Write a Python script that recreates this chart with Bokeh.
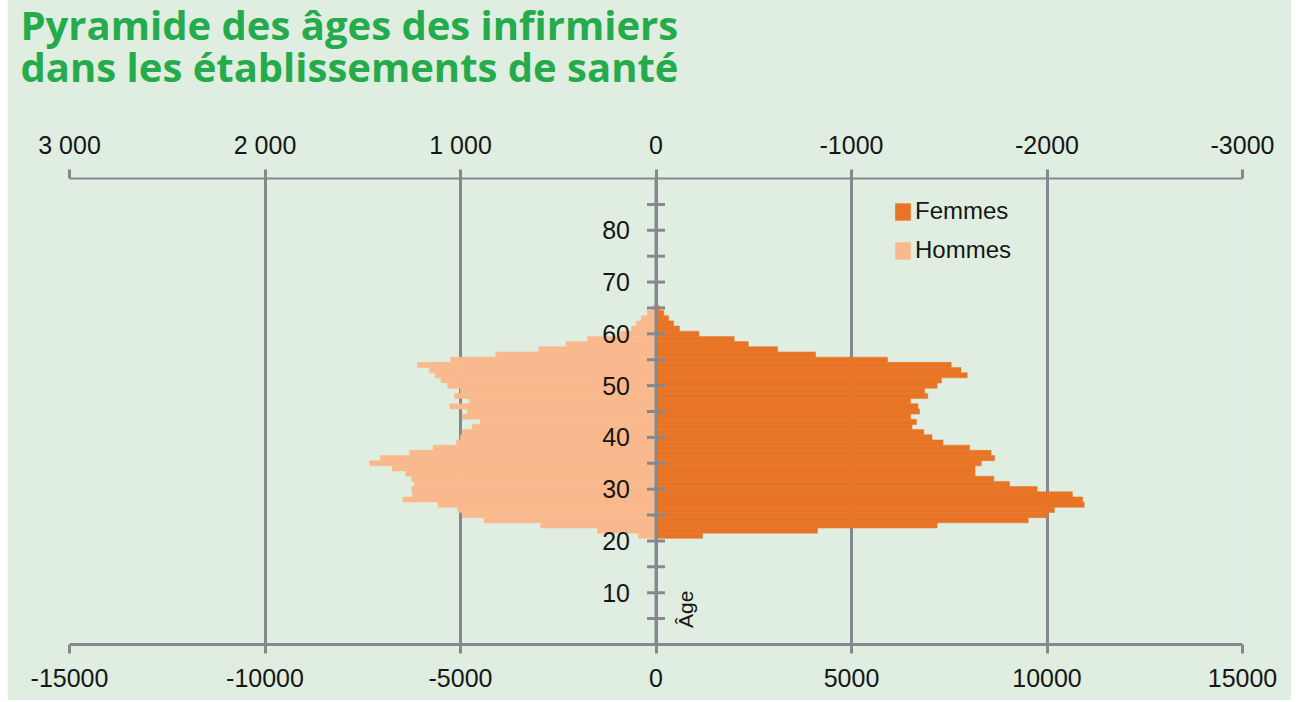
from bokeh.plotting import figure
from bokeh.models import (Range1d, LinearAxis, FixedTicker, Span, Label, Legend,
                          LegendItem, ColumnDataSource)
from bokeh.embed import file_html
from bokeh.resources import INLINE
from bokeh.core.properties import value

# ---------------- data ----------------
ages = [65, 64, 63, 62, 61, 60, 59, 58, 57, 56, 55, 54, 53, 52, 51, 50, 49, 48, 47, 46,
        45, 44, 43, 42, 41, 40, 39, 38, 37, 36, 35, 34, 33, 32, 31, 30, 29, 28, 27, 26,
        25, 24, 23, 22, 21]
femmes = [80, 200, 320, 450, 600, 1100, 2000, 2360, 3110, 4080, 5920, 7550, 7800, 7960, 7300,
          7190, 6870, 6950, 6510, 6700, 6740, 6510, 6660, 6550, 6850, 7060, 7340, 8020, 8570,
          8660, 8320, 8160, 8160, 8640, 9040, 9750, 10650, 10910, 10950, 10190, 10020, 9520,
          7190, 4130, 1190]
hommes = [15, 45, 75, 100, 125, 180, 350, 460, 600, 820, 1050, 1220, 1160, 1130, 1100,
          1065, 1000, 1030, 955, 1055, 965, 990, 900, 940, 990, 1000, 1020, 1140, 1260,
          1410, 1465, 1350, 1280, 1250, 1235, 1250, 1245, 1295, 1115, 1015, 990, 880,
          590, 300, 90]

age_ticks = [5, 10, 15, 20, 25, 30, 35, 40, 45, 50, 55, 60, 65, 70, 75, 80, 85]
age_label_values = [10, 20, 30, 40, 50, 60, 70, 80]
age_label_texts = ["10", "20", "30", "40", "50", "60", "70", "80"]

top_ticks = [3000, 2000, 1000, 0, -1000, -2000, -3000]
top_labels = ["3 000", "2 000", "1 000", "0", "-1000", "-2000", "-3000"]
bottom_ticks = [-15000, -10000, -5000, 0, 5000, 10000, 15000]
bottom_labels = ["-15000", "-10000", "-5000", "0", "5000", "10000", "15000"]

title_lines = ["Pyramide des âges des infirmiers", "dans les établissements de santé"]
series_names = ["Femmes", "Hommes"]

# ---------------- style ----------------
BG = "#dfeee0"
GRAY = "#87878f"
GREEN = "#25ab4b"
DARK = "#e87426"
LIGHT = "#fab98c"
TXT = "#161616"
FONT = "Liberation Sans, Arial, sans-serif"

TOP = -45                     # canvas starts slightly above the page top
W, H = 1284, 700 - TOP
ML, MR, MT, MB = 62, 49, 178 - TOP, 56
FW, FH = W - ML - MR, H - MT - MB
XMIN, XMAX, YMIN, YMAX = -15000, 15000, 0, 90

p = figure(width=W, height=H, x_range=Range1d(XMIN, XMAX), y_range=Range1d(YMIN, YMAX),
           output_backend="svg", toolbar_location=None,
           x_axis_location=None, y_axis_location=None,
           min_border_left=ML, min_border_right=MR, min_border_top=MT, min_border_bottom=MB,
           background_fill_color=BG, border_fill_color=BG, outline_line_color=None,
           margin=(TOP, 0, 0, 7))
p.extra_x_ranges = {"hommes": Range1d(3000, -3000)}

# grid
p.xgrid.ticker = FixedTicker(ticks=bottom_ticks)
p.xgrid.grid_line_color = GRAY
p.xgrid.grid_line_width = 3
p.ygrid.grid_line_color = None

# axes
xb = LinearAxis(ticker=FixedTicker(ticks=bottom_ticks),
                major_label_overrides={t: l for t, l in zip(bottom_ticks, bottom_labels)})
xt = LinearAxis(x_range_name="hommes", ticker=FixedTicker(ticks=top_ticks),
                major_label_overrides={t: l for t, l in zip(top_ticks, top_labels)})
for ax in (xb, xt):
    ax.axis_line_color = GRAY
    ax.major_tick_line_color = GRAY
    ax.major_tick_line_width = 3
    ax.minor_tick_line_color = None
    ax.major_tick_in = 0
    ax.major_tick_out = 9
    ax.major_label_text_font = FONT
    ax.major_label_text_font_size = "25px"
    ax.major_label_text_color = TXT
xb.major_label_standoff = 15
xt.major_label_standoff = 11
xb.axis_line_width = 3
xt.axis_line_width = 2
p.add_layout(xb, "below")
p.add_layout(xt, "above")

# two-line title
p.title.text = "\n".join(title_lines)
p.title.align = "left"
p.title.offset = -49
p.title.standoff = 67
p.title.text_line_height = 0.76
p.title.text_font = "Open Sans"
p.title.text_font_style = "bold"
p.title.text_font_size = "40px"
p.title.text_color = GREEN

# bars
src = ColumnDataSource(dict(age=ages, femmes=femmes, hommes=hommes))
rf = p.hbar(y="age", left=0, right="femmes", height=1, source=src,
            fill_color=DARK, line_color=DARK, line_width=0.5)
rh = p.hbar(y="age", left=0, right="hommes", height=1, source=src,
            fill_color=LIGHT, line_color=LIGHT, line_width=0.5, x_range_name="hommes")

# central age axis
p.add_layout(Span(location=0, dimension="height", line_color=GRAY, line_width=3))
p.scatter(x=[0] * len(age_ticks), y=age_ticks, marker="dash", size=18,
          line_color=GRAY, line_width=3)
p.text(x=[0] * len(age_label_values), y=age_label_values, text=age_label_texts,
       x_offset=-26, text_align="right", text_baseline="middle",
       text_font=value(FONT), text_font_size=value("25px"), text_color=TXT)
p.add_layout(Label(x=0, y=6.8, x_offset=29, text="Âge", angle=90, angle_units="deg",
                   text_align="center", text_baseline="middle",
                   text_font=FONT, text_font_size="21px", text_color=TXT))

# legend
item_h = 27
spacing = 11
leg_h = 2 * item_h + spacing
legend = Legend(items=[LegendItem(label=series_names[0], renderers=[rf]),
                       LegendItem(label=series_names[1], renderers=[rh])],
                location=(824, FH - 21 - leg_h), orientation="vertical",
                glyph_width=19, glyph_height=21, label_standoff=3, spacing=spacing,
                padding=0, margin=0, border_line_color=None, background_fill_alpha=0,
                label_text_font=FONT, label_text_font_size="24px", label_text_color=TXT,
                label_height=21)
p.add_layout(legend)

open("out.html", "w").write(file_html(p, INLINE))
